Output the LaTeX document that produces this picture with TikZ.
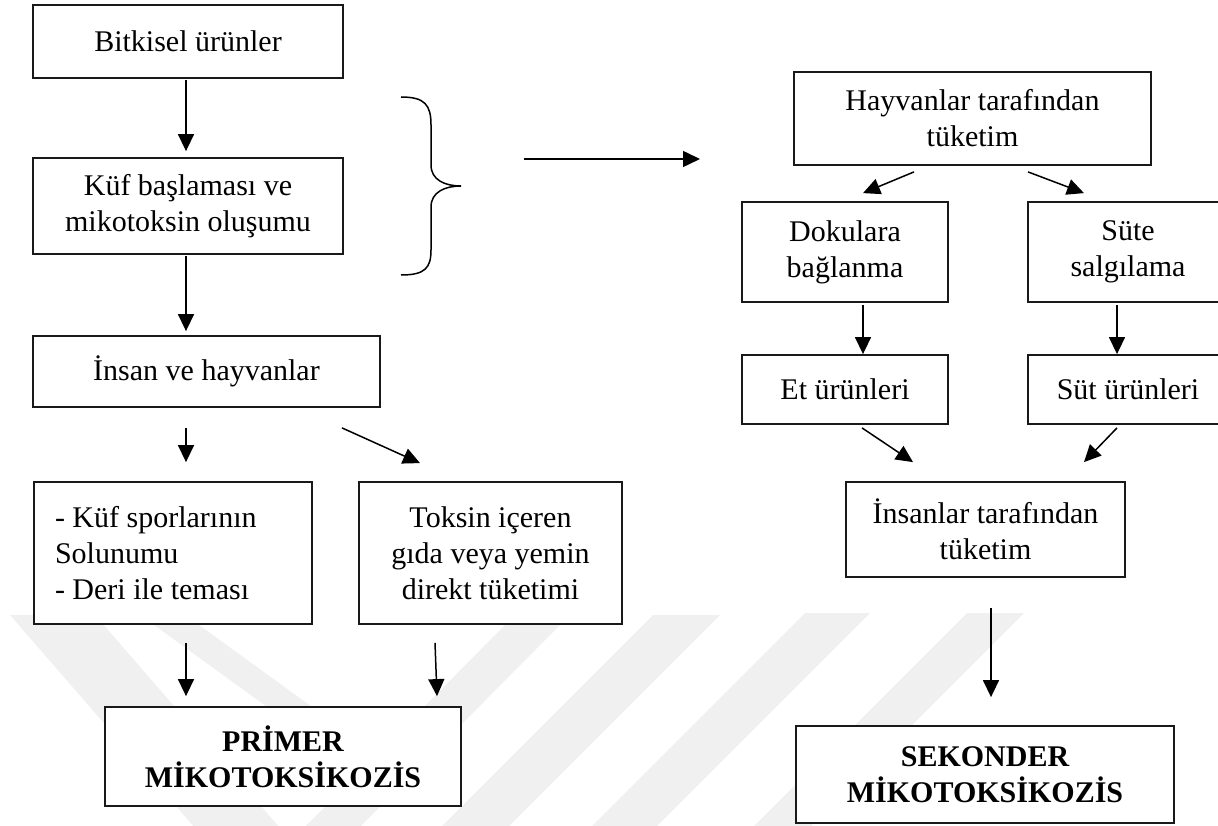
\documentclass[tikz,border=0pt]{standalone}
\usepackage{fontspec}
\setmainfont{Liberation Serif}
\usetikzlibrary{arrows.meta}
\begin{document}
\begin{tikzpicture}[x=1pt,y=-1pt,
  box/.style={draw=black!90, line width=1.8pt, fill=white, align=center,
              inner sep=4pt, font=\fontsize{30}{36}\selectfont},
  arr/.style={line width=1.5pt, -{Triangle[length=17pt,width=16pt]}},
  wm/.style={fill=black!6, draw=none}]
\useasboundingbox (0,0) rectangle (1218,826);

% faint background watermark bands
\fill[wm] (10,615) -- (95,615) -- (280,828) -- (195,828) -- cycle;
\fill[wm] (150,622) -- (195,622) -- (330,720) -- (285,720) -- cycle;
\fill[wm] (505,625) -- (560,625) -- (359,828) -- (304,828) -- cycle;
\fill[wm] (653,615) -- (720,615) -- (507,828) -- (440,828) -- cycle;
\fill[wm] (805,613) -- (870,613) -- (655,828) -- (590,828) -- cycle;
\fill[wm] (967,613) -- (1024,613) -- (809,828) -- (752,828) -- cycle;

% primary route
\node[box, minimum width=310pt, minimum height=73pt] (b1) at (188,41.5) {Bitkisel ürünler};
\node[box, minimum width=310pt, minimum height=96pt] (b2) at (188,206) {Küf başlaması ve\\mikotoksin oluşumu};
\node[box, minimum width=347pt, minimum height=71pt] (b3) at (206.5,371.5) {İnsan ve hayvanlar};
\node[box, minimum width=278pt, minimum height=142pt, text width=236pt, inner xsep=21pt, align=flush left] (b4) at (173,553)
  {- Küf sporlarının\\Solunumu\\- Deri ile teması};
\node[box, minimum width=263pt, minimum height=142pt] (b5) at (490.5,553) {Toksin içeren\\gıda veya yemin\\direkt tüketimi};
\node[box, minimum width=356pt, minimum height=99pt, font=\fontsize{30}{36}\selectfont\bfseries] (b6) at (283,756.5)
  {PRİMER\\MİKOTOKSİKOZİS};

% secondary route
\node[box, minimum width=357pt, minimum height=93pt] (c1) at (972.5,118.5) {Hayvanlar tarafından\\tüketim};
\node[box, minimum width=206pt, minimum height=100pt] (c2) at (845,252) {Dokulara\\bağlanma};
\node[box, minimum width=200pt, minimum height=100pt] (c3) at (1128,252) {Süte\\salgılama};
\node[box, minimum width=206pt, minimum height=69pt] (c4) at (845,389.5) {Et ürünleri};
\node[box, minimum width=200pt, minimum height=69pt] (c5) at (1128,389.5) {Süt ürünleri};
\node[box, minimum width=279pt, minimum height=95pt] (c6) at (985.5,529.5) {İnsanlar tarafından\\tüketim};
\node[box, minimum width=378pt, minimum height=97pt, font=\fontsize{30}{36}\selectfont\bfseries] (c7) at (985,774.5)
  {SEKONDER\\MİKOTOKSİKOZİS};

% brace grouping the first two stages
\draw[line width=1.5pt] (401,97) .. controls (425,97) and (431,105) .. (431,125)
  -- (431,165) .. controls (431,180) and (445,186) .. (461,186)
  .. controls (445,186) and (431,192) .. (431,207)
  -- (431,250) .. controls (431,268) and (425,275) .. (401,275);
\coordinate (hs) at (524,159);
\coordinate (he) at (700,159);
\draw[arr] (hs) -- (he);

% arrows, primary route
\draw[arr] ([xshift=-2pt,yshift=-1pt]b1.south) -- ([xshift=-2pt,yshift=6pt]b2.north);
\draw[arr] ([xshift=-2pt,yshift=-1pt]b2.south) -- ([xshift=-20.5pt,yshift=4pt]b3.north);
\draw[arr] ([xshift=-20.5pt,yshift=-20pt]b3.south) -- ([xshift=13pt,yshift=19pt]b4.north);
\draw[arr] ([xshift=135.5pt,yshift=-20pt]b3.south) -- ([xshift=-70.5pt,yshift=18pt]b5.north);
\draw[arr] ([xshift=13pt,yshift=-18pt]b4.south) -- ([xshift=-97pt,yshift=10pt]b6.north);
\draw[arr] ([xshift=-55.5pt,yshift=-18pt]b5.south) -- ([xshift=154pt,yshift=10pt]b6.north);

% arrows, secondary route
\draw[arr] ([xshift=-58.5pt,yshift=-6pt]c1.south) -- ([xshift=18pt,yshift=8pt]c2.north);
\draw[arr] ([xshift=55.5pt,yshift=-6pt]c1.south) -- ([xshift=-44pt,yshift=8pt]c3.north);
\draw[arr] ([xshift=18pt,yshift=-2pt]c2.south) -- ([xshift=18pt]c4.north);
\draw[arr] ([xshift=-11pt,yshift=-2pt]c3.south) -- ([xshift=-11pt]c5.north);
\draw[arr] ([xshift=17pt,yshift=-3pt]c4.south) -- ([xshift=-72.5pt,yshift=19pt]c6.north);
\draw[arr] ([xshift=-11pt,yshift=-3pt]c5.south) -- ([xshift=98.5pt,yshift=19pt]c6.north);
\draw[arr] ([xshift=5.5pt,yshift=-30pt]c6.south) -- ([xshift=6pt,yshift=28pt]c7.north);
\end{tikzpicture}
\end{document}
